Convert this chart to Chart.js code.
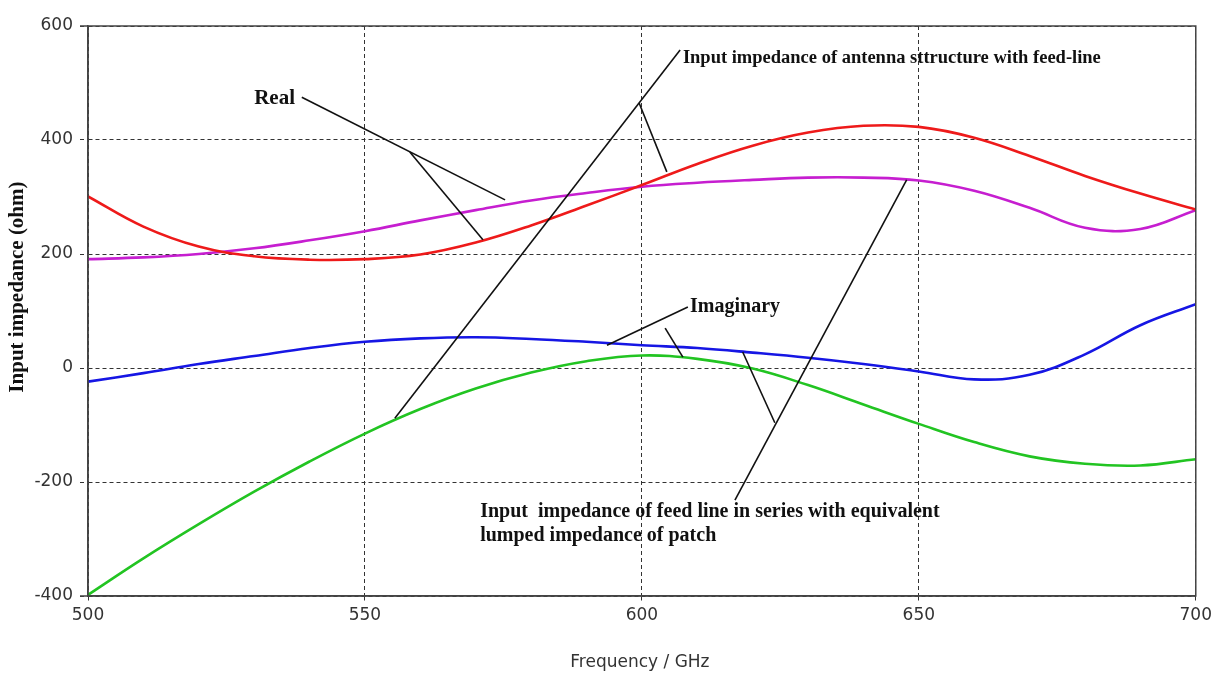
<!DOCTYPE html>
<html>
<head>
<meta charset="utf-8">
<script src="https://cdn.jsdelivr.net/npm/chart.js@4/dist/chart.umd.min.js"></script>
<style>
    body { margin: 0; background: #fff; }
    canvas { display: block; }
</style>
</head>
<body>
<canvas id="myChart" width="1216" height="675"></canvas>
<script>
// frequency in GHz, impedance in ohm
const frequency = [500, 510, 520, 530, 540, 550, 560, 570, 580, 590, 600, 610, 620, 630, 640, 650, 660, 670, 680, 690, 700]
const realStructure = [301, 248, 213, 196, 190, 191, 199, 220, 250, 285, 321, 358, 390, 413, 425, 423, 404, 372, 337, 306, 278]
const realSeries = [191, 194, 200, 210, 224, 240, 259, 277, 294, 307, 318, 325, 330, 334, 334, 329, 311, 281, 246, 244, 277]
const imagStructure = [-398, -334, -274, -217, -164, -115, -72, -36, -8, 12, 22, 16, -1, -30, -64, -98, -130, -155, -168, -171, -160]
const imagSeries = [-24, -9, 7, 21, 35, 46, 52, 54, 51, 46, 40, 35, 27, 18, 7, -6, -20, -12, 24, 75, 112]

const xTicks = [500, 550, 600, 650, 700]
const yTicks = [-400, -200, 0, 200, 400, 600]

// callouts: text anchor and leader lines, all in (GHz, ohm)
const callouts = [
    { text: ['Real'], at: [530, 472], size: 21, lines: [[[538.6, 475], [575.3, 295]], [[558.1, 379], [571.3, 225]]] },
    { text: ['Input impedance of antenna sttructure with feed-line'], at: [607.4, 544], size: 18.5, lines: [[[606.9, 558], [555.4, -88]], [[599.5, 465], [604.5, 344]]] },
    { text: ['Imaginary'], at: [608.7, 107], size: 20, lines: [[[608.3, 107], [593.7, 40]], [[604.2, 70], [607.4, 19]]] },
    { text: ['Input  impedance of feed line in series with equivalent', 'lumped impedance of patch'], at: [570.8, -253], size: 20, lines: [[[616.8, -232], [647.8, 330]], [[624, -96], [618.2, 28]]] }
]

const toPoints = arr => arr.map((v, i) => ({ x: frequency[i], y: v }))

const overlay = {
    id: 'overlay',
    afterDatasetsDraw(chart) {
        const { ctx, chartArea: a, scales: { x, y } } = chart
        ctx.save()

        // frame
        ctx.strokeStyle = '#444'
        ctx.lineWidth = 1.5
        ctx.setLineDash([])
        ctx.strokeRect(a.left, a.top, a.right - a.left, a.bottom - a.top)
        ctx.beginPath()
        ctx.moveTo(a.left - 8, a.top)
        ctx.lineTo(a.left, a.top)
        ctx.moveTo(a.left - 8, a.bottom)
        ctx.lineTo(a.left, a.bottom)
        ctx.stroke()

        // leader lines
        ctx.strokeStyle = '#111'
        ctx.lineWidth = 1.6
        callouts.forEach(c => {
            c.lines.forEach(l => {
                ctx.beginPath()
                ctx.moveTo(x.getPixelForValue(l[0][0]), y.getPixelForValue(l[0][1]))
                ctx.lineTo(x.getPixelForValue(l[1][0]), y.getPixelForValue(l[1][1]))
                ctx.stroke()
            })
        })

        // callout texts
        ctx.fillStyle = '#111'
        ctx.textAlign = 'left'
        ctx.textBaseline = 'middle'
        callouts.forEach(c => {
            ctx.font = 'bold ' + c.size + 'px "Liberation Serif", serif'
            const px = x.getPixelForValue(c.at[0])
            const py = y.getPixelForValue(c.at[1])
            c.text.forEach((t, i) => ctx.fillText(t, px, py + i * 24))
        })

        // axis titles
        ctx.save()
        ctx.font = 'bold 21px "Liberation Serif", serif'
        ctx.translate(18, y.getPixelForValue(142))
        ctx.rotate(-Math.PI / 2)
        ctx.textAlign = 'center'
        ctx.fillText('Input impedance (ohm)', 0, 0)
        ctx.restore()

        ctx.fillStyle = '#333'
        ctx.font = '17px "DejaVu Sans", sans-serif'
        ctx.textAlign = 'center'
        ctx.fillText('Frequency / GHz', x.getPixelForValue(600) - 2, 663)

        ctx.restore()
    }
}

const gridStyle = {
    color: '#333',
    lineWidth: 1,
    tickColor: '#333',
    tickBorderDash: [4, 3]
}

new Chart(document.getElementById('myChart'), {
    type: 'line',
    data: {
        datasets: [
            { label: 'Real structure', data: toPoints(realStructure), borderColor: '#ee1a1a' },
            { label: 'Real series', data: toPoints(realSeries), borderColor: '#c61ed0' },
            { label: 'Imag series', data: toPoints(imagSeries), borderColor: '#1616e4' },
            { label: 'Imag structure', data: toPoints(imagStructure), borderColor: '#22c422' }
        ]
    },
    options: {
        responsive: false,
        animation: false,
        layout: { padding: { left: 0, right: 20, top: 26, bottom: 0 } },
        elements: {
            line: { borderWidth: 2.6, tension: 0.4, fill: false },
            point: { radius: 0 }
        },
        plugins: {
            legend: { display: false },
            tooltip: { enabled: false }
        },
        scales: {
            x: {
                type: 'linear',
                min: 500,
                max: 700,
                afterBuildTicks: s => { s.ticks = xTicks.map(v => ({ value: v })) },
                afterFit: s => { s.height = 79 },
                grid: { ...gridStyle, tickLength: 5 },
                border: { display: true, color: '#444', width: 1.5, dash: [4, 3] },
                ticks: {
                    color: '#333',
                    padding: 4,
                    maxRotation: 0,
                    font: { family: '"DejaVu Sans", sans-serif', size: 17 }
                }
            },
            y: {
                min: -400,
                max: 600,
                afterBuildTicks: s => { s.ticks = yTicks.map(v => ({ value: v })) },
                afterFit: s => { s.width = 88 },
                grid: { ...gridStyle, tickLength: 8 },
                border: { display: true, color: '#444', width: 1.5, dash: [4, 3] },
                ticks: {
                    color: '#333',
                    padding: 7,
                    font: { family: '"DejaVu Sans", sans-serif', size: 17 }
                }
            }
        }
    },
    plugins: [overlay]
})
</script>
</body>
</html>
